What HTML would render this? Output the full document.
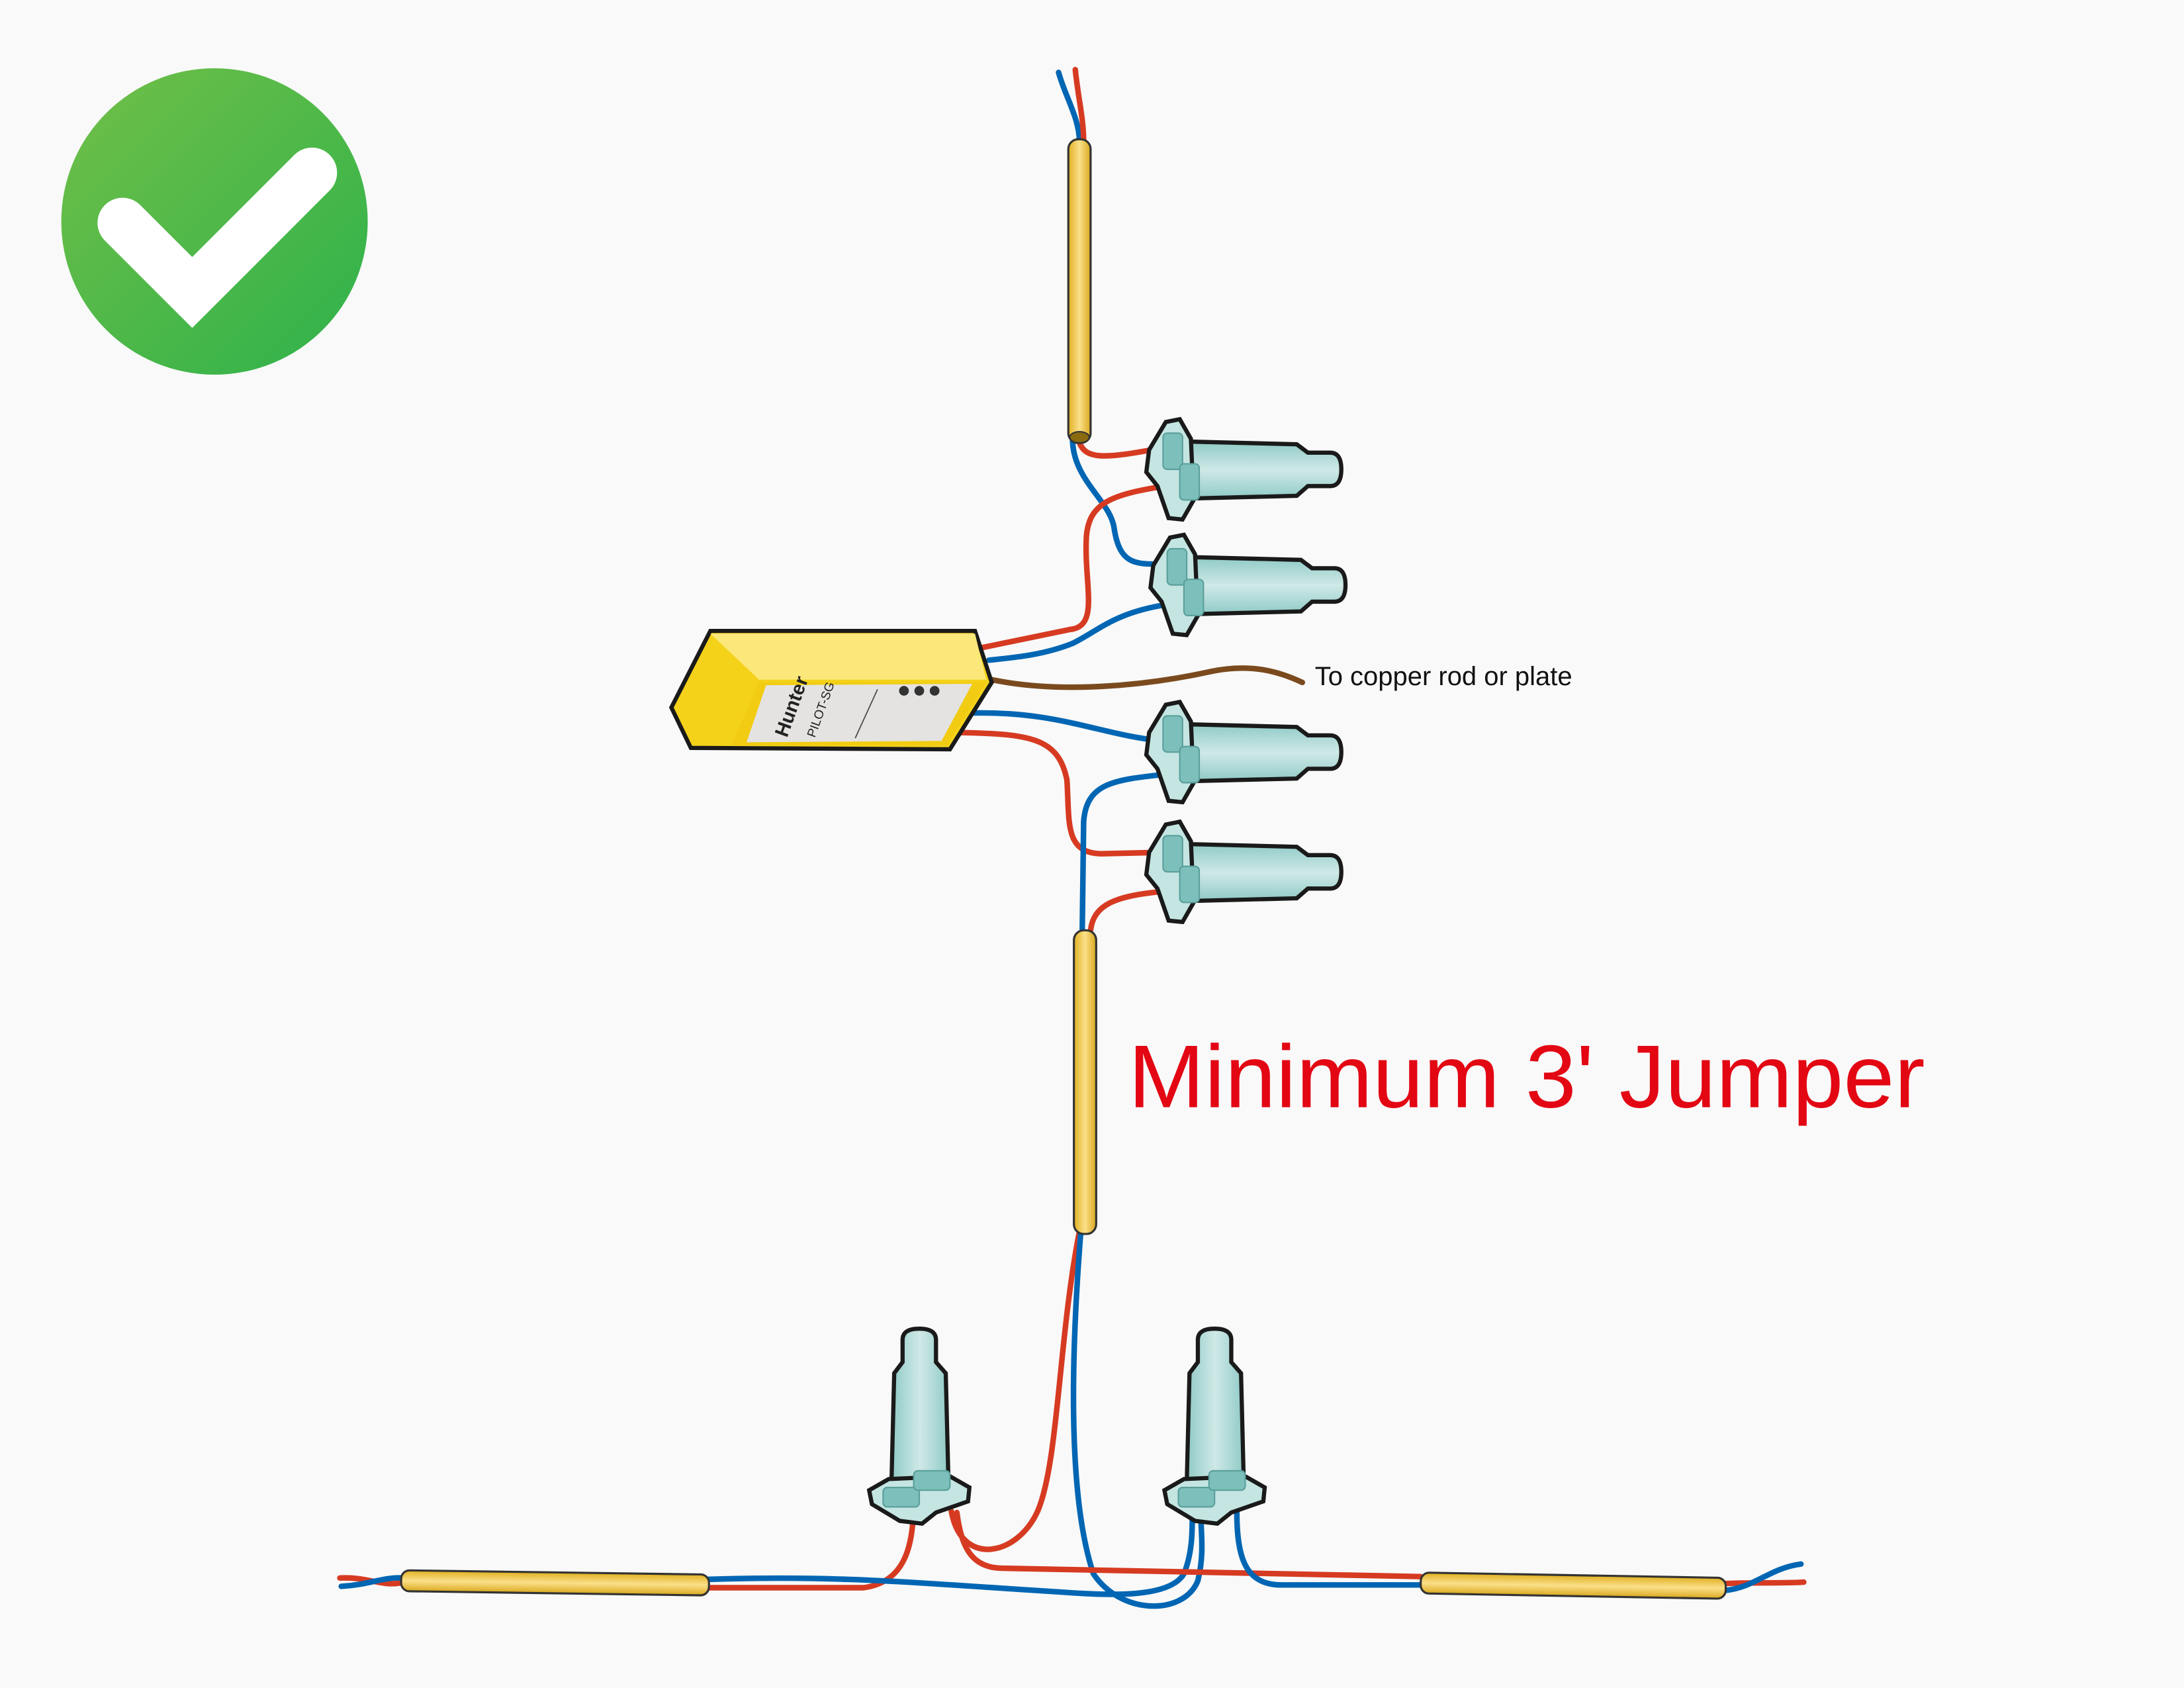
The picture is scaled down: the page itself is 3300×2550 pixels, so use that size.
<!DOCTYPE html>
<html><head><meta charset="utf-8"><style>
html,body{margin:0;padding:0;background:#f9f9f9;}
svg{display:block;}
</style></head><body>
<svg width="3300" height="2550" viewBox="0 0 1568 1212" preserveAspectRatio="none" xmlns="http://www.w3.org/2000/svg">
<defs>
<linearGradient id="g" x1="0" y1="0" x2="1" y2="1"><stop offset="0" stop-color="#72bf48"/><stop offset="1" stop-color="#2db24a"/></linearGradient>
<linearGradient id="cond" x1="0" y1="0" x2="1" y2="0"><stop offset="0" stop-color="#e0b020"/><stop offset="0.5" stop-color="#fbe08a"/><stop offset="1" stop-color="#d9a81c"/></linearGradient>
<linearGradient id="condh" x1="0" y1="0" x2="0" y2="1"><stop offset="0" stop-color="#e0b020"/><stop offset="0.5" stop-color="#fbe08a"/><stop offset="1" stop-color="#d9a81c"/></linearGradient>
<linearGradient id="body" x1="0" y1="0" x2="0" y2="1"><stop offset="0" stop-color="#8fcac6"/><stop offset="0.5" stop-color="#cfe9e7"/><stop offset="1" stop-color="#8fcac6"/></linearGradient>
<g id="conn">
<path d="M6,-20 L86,-18 L94,-12 L110,-12 Q118,-12 118,0 Q118,12 110,12 L94,12 L86,19 L6,21 Z" fill="url(#body)" stroke="#1a1a1a" stroke-width="3"/>
<path d="M-8,-34 L2,-36 L10,-22 L12,22 L4,36 L-6,35 L-14,12 L-22,2 L-20,-14 Z" fill="#c4e5e2" stroke="#1a1a1a" stroke-width="3"/>
<rect x="-10" y="-26" width="14" height="26" rx="3" fill="#7dbfba" stroke="#5a9f9a" stroke-width="1"/>
<rect x="2" y="-4" width="14" height="26" rx="3" fill="#7dbfba" stroke="#5a9f9a" stroke-width="1"/>
</g>
</defs>
<rect width="1568" height="1212" fill="#f9f9f9"/>
<!-- check -->
<circle cx="154" cy="159" r="110" fill="url(#g)"/>
<polyline points="88,160 138,210 224,124" fill="none" stroke="#fff" stroke-width="36" stroke-linejoin="miter" stroke-linecap="round"/>

<g fill="none" stroke-width="4" stroke-linecap="round">
<!-- top -->
<path d="M760,52 C765,70 775,85 775,102" stroke="#0066b3"/>
<path d="M772,50 C774,70 778,85 778,102" stroke="#d63b22"/>
<path d="M774,315 C778,330 790,330 832,322" stroke="#d63b22"/>
<path d="M770,315 C770,345 798,360 800,380 C804,405 815,405 832,405" stroke="#0066b3"/>
<path d="M836,349 C800,355 782,360 780,385 C778,420 790,450 768,452 L705,465" stroke="#d63b22"/>
<path d="M838,434 C800,440 790,452 770,462 C750,470 730,472 710,474" stroke="#0066b3"/>
<path d="M712,488 C760,498 820,493 870,482 C900,476 920,483 935,490" stroke="#7a4a1e"/>
<path d="M695,512 C760,510 790,528 835,532" stroke="#0066b3"/>
<path d="M690,526 C740,527 760,530 766,560 C768,590 764,612 790,613 L834,612" stroke="#d63b22"/>
<path d="M836,556 C800,560 780,562 778,590 L777,668" stroke="#0066b3"/>
<path d="M836,640 C800,643 785,650 783,668" stroke="#d63b22"/>
<!-- lower -->
<path d="M775,884 C760,960 760,1050 745,1085 C730,1118 690,1125 683,1085" stroke="#d63b22"/>
<path d="M776,884 C770,960 765,1070 785,1130 C805,1160 850,1160 860,1135 C865,1115 862,1100 862,1083" stroke="#0066b3"/>
<path d="M244,1133 C265,1132 275,1140 290,1136" stroke="#d63b22"/>
<path d="M245,1139 C265,1138 275,1132 290,1133" stroke="#0066b3"/>
<path d="M508,1140 L620,1140 C650,1136 655,1110 656,1083" stroke="#d63b22"/>
<path d="M508,1134 C600,1131 650,1136 760,1143 C800,1146 840,1147 850,1130 C856,1115 856,1100 856,1088" stroke="#0066b3"/>
<path d="M687,1086 C690,1110 697,1126 720,1126 L1020,1132" stroke="#d63b22"/>
<path d="M888,1086 C888,1120 895,1138 920,1138 L1020,1138" stroke="#0066b3"/>
<path d="M1238,1137 C1260,1136 1280,1137 1295,1136" stroke="#d63b22"/>
<path d="M1238,1142 C1260,1140 1270,1126 1293,1123" stroke="#0066b3"/>
</g>

<!-- conduits -->
<rect x="767" y="100" width="16" height="218" rx="7" fill="url(#cond)" stroke="#333" stroke-width="1.5"/>
<ellipse cx="775" cy="314" rx="7" ry="4" fill="#8a6a10" stroke="#333"/>
<rect x="771" y="668" width="16" height="218" rx="7" fill="url(#cond)" stroke="#333" stroke-width="1.5"/>
<g transform="rotate(0.8 398 1136)"><rect x="288" y="1129" width="221" height="15" rx="6" fill="url(#condh)" stroke="#333" stroke-width="1.5"/></g>
<g transform="rotate(1 1129 1139)"><rect x="1020" y="1131" width="219" height="15" rx="6" fill="url(#condh)" stroke="#333" stroke-width="1.5"/></g>

<!-- connectors -->
<use href="#conn" transform="translate(845,337)"/>
<use href="#conn" transform="translate(848,420)"/>
<use href="#conn" transform="translate(845,540)"/>
<use href="#conn" transform="translate(845,626)"/>
<use href="#conn" transform="translate(660,1072) rotate(-90)"/>
<use href="#conn" transform="translate(872,1072) rotate(-90)"/>

<!-- device -->
<path d="M482,508 L510,453 L700,453 L712,490 L682,538 L496,537 Z" fill="#f4d21a" stroke="#1a1a1a" stroke-width="3"/>
<path d="M510,455 L700,455 L708,488 L545,488 Z" fill="#fbe77a"/>
<path d="M545,490 L708,490 L680,535 L525,535 Z" fill="#f1cc12"/>
<path d="M550,492 L698,491 L676,532 L536,533 Z" fill="#e4e3e1"/>
<text x="0" y="0" transform="translate(565,530) rotate(-70)" font-family="Liberation Sans, sans-serif" font-size="14" font-weight="bold" fill="#222">Hunter</text>
<text x="0" y="0" transform="translate(585,530) rotate(-70)" font-family="Liberation Sans, sans-serif" font-size="9" fill="#222">PILOT-SG</text>
<circle cx="649" cy="496" r="3.5" fill="#333"/><circle cx="660" cy="496" r="3.5" fill="#333"/><circle cx="671" cy="496" r="3.5" fill="#333"/>
<line x1="630" y1="495" x2="614" y2="530" stroke="#444" stroke-width="0.8"/>

<text x="944" y="492" font-family="Liberation Sans, sans-serif" font-size="19" fill="#111">To copper rod or plate</text>
<text x="810" y="795" font-family="Liberation Sans, sans-serif" font-size="64" fill="#e30613" textLength="572" lengthAdjust="spacingAndGlyphs">Minimum 3' Jumper</text>
</svg>
</body></html>
